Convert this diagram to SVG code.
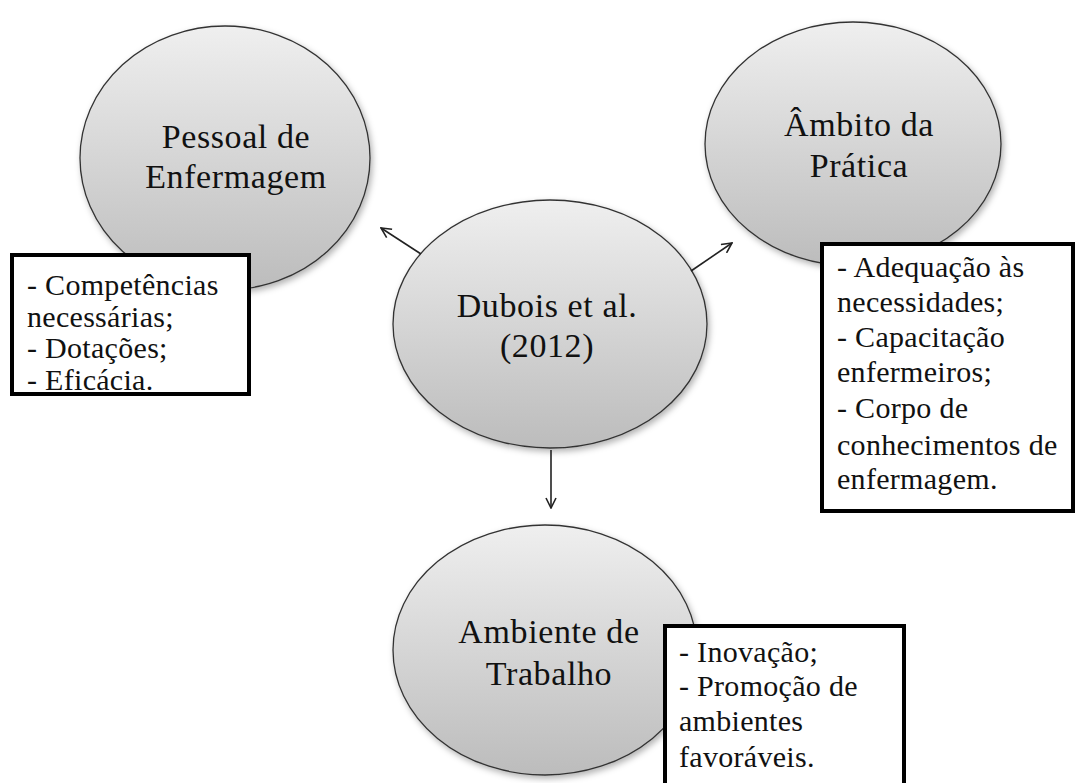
<svg xmlns="http://www.w3.org/2000/svg" width="1076" height="783" viewBox="0 0 1076 783">
<defs>
<linearGradient id="g" x1="0" y1="0" x2="0" y2="1">
<stop offset="0" stop-color="#efefef"/>
<stop offset="1" stop-color="#bcbcbc"/>
</linearGradient>
<filter id="sh" x="-10%" y="-10%" width="125%" height="125%">
<feDropShadow dx="2" dy="3" stdDeviation="3" flood-color="#000" flood-opacity="0.3"/>
</filter>
<marker id="arr" viewBox="0 0 12 12" refX="11" refY="6" markerWidth="12" markerHeight="12" markerUnits="userSpaceOnUse" orient="auto">
<path d="M1,1 L11,6 L1,11" fill="none" stroke="#222" stroke-width="1.6"/>
</marker>
<style>
.el{fill:url(#g);stroke:#333;stroke-width:1.3;filter:url(#sh)}
.t{font-family:"Liberation Serif","Times New Roman",serif;font-size:34px;fill:#111;text-anchor:middle;letter-spacing:0.6px}
.b{fill:#fff;stroke:#000;stroke-width:4}
.bt{font-family:"Liberation Serif","Times New Roman",serif;font-size:30px;fill:#111;letter-spacing:0.3px}
.c{stroke:#222;stroke-width:1.6;fill:none;marker-end:url(#arr)}
</style>
</defs>
<rect width="1076" height="783" fill="#fff"/>
<g id="node-pessoal">
<ellipse class="el" cx="225" cy="158" rx="145" ry="132"/>
<text class="t" x="236" y="148">Pessoal de</text>
<text class="t" x="236" y="188">Enfermagem</text>
</g>
<g id="node-ambito">
<ellipse class="el" cx="853" cy="144" rx="148" ry="122"/>
<text class="t" x="859" y="136">Âmbito da</text>
<text class="t" x="859" y="177">Prática</text>
</g>
<g id="node-ambiente">
<ellipse class="el" cx="545" cy="650" rx="152" ry="125"/>
<text class="t" x="549" y="643">Ambiente de</text>
<text class="t" x="549" y="685">Trabalho</text>
</g>
<g id="node-dubois">
<ellipse class="el" cx="550" cy="324" rx="157" ry="124"/>
<text class="t" x="547" y="317">Dubois et al.</text>
<text class="t" x="547" y="357">(2012)</text>
</g>
<g id="connectors">
<line class="c" x1="421" y1="254" x2="381" y2="228"/>
<line class="c" x1="691" y1="271" x2="732" y2="243"/>
<line class="c" x1="551" y1="450" x2="551" y2="508"/>
</g>
<g id="box-pessoal">
<rect class="b" x="12" y="255" width="237" height="139"/>
<text class="bt" x="27" y="295">- Competências</text>
<text class="bt" x="27" y="327">necessárias;</text>
<text class="bt" x="27" y="358">- Dotações;</text>
<text class="bt" x="27" y="390">- Eficácia.</text>
</g>
<g id="box-ambito">
<rect class="b" x="822" y="244" width="251" height="267"/>
<text class="bt" x="837" y="277">- Adequação às</text>
<text class="bt" x="837" y="312">necessidades;</text>
<text class="bt" x="837" y="347">- Capacitação</text>
<text class="bt" x="837" y="382">enfermeiros;</text>
<text class="bt" x="837" y="418">- Corpo de</text>
<text class="bt" x="837" y="455">conhecimentos de</text>
<text class="bt" x="837" y="489">enfermagem.</text>
</g>
<g id="box-ambiente">
<rect class="b" x="665" y="626" width="239" height="170"/>
<text class="bt" x="679" y="662">- Inovação;</text>
<text class="bt" x="679" y="696">- Promoção de</text>
<text class="bt" x="679" y="731">ambientes</text>
<text class="bt" x="679" y="767">favoráveis.</text>
</g>
</svg>
